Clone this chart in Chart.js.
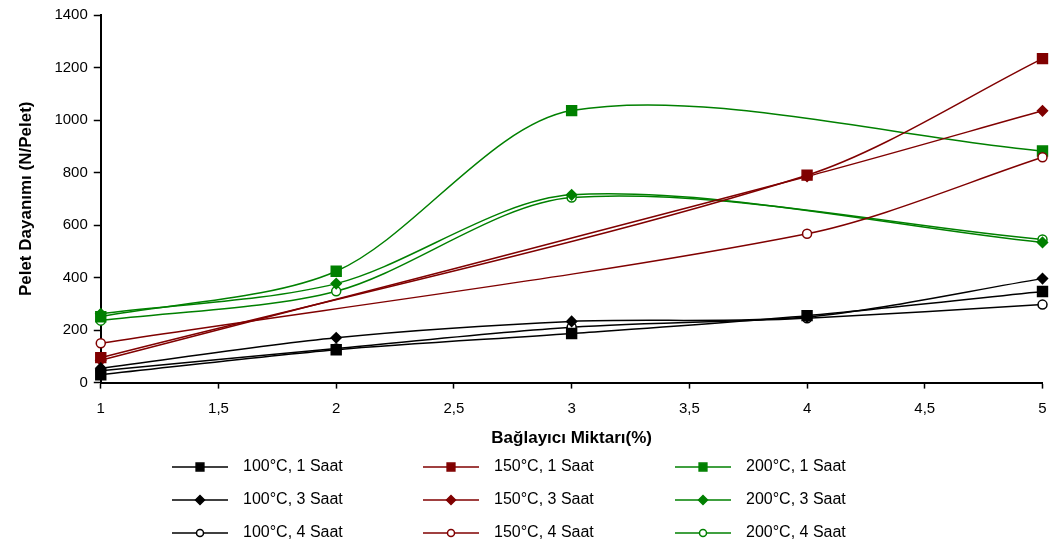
<!DOCTYPE html>
<html>
<head>
<meta charset="utf-8">
<script src="https://cdn.jsdelivr.net/npm/chart.js@4"></script>
<style>
    body { margin: 0; background: #fff; }
    #wrap { width: 1051px; height: 555px; position: relative; }
</style>
</head>
<body>
<div id="wrap"><canvas id="peletChart"></canvas></div>
<script>
/* Data */
const binderAmounts = [1, 2, 3, 4, 5];

const s100_1h = [30, 125, 187, 255, 347];
const s100_3h = [55, 171, 233, 250, 396];
const s100_4h = [45, 130, 211, 245, 297];

const s150_1h = [95, null, null, 790, 1234];
const s150_3h = [85, null, null, 785, 1035];
const s150_4h = [150, null, null, 567, 858];

const s200_1h = [251, 424, 1036, null, 882];
const s200_3h = [262, 377, 715, null, 534];
const s200_4h = [236, 348, 705, null, 545];

const seriesLabels = [
    '100°C, 1 Saat', '100°C, 3 Saat', '100°C, 4 Saat',
    '150°C, 1 Saat', '150°C, 3 Saat', '150°C, 4 Saat',
    '200°C, 1 Saat', '200°C, 3 Saat', '200°C, 4 Saat'
];
const yTicks = [0, 200, 400, 600, 800, 1000, 1200, 1400];

const BLACK = '#000000';
const RED = '#800000';
const GREEN = '#008000';

function makeSet(label, values, color, style) {
    let radius = 7, fill = color;
    if (style === 'rectRot') radius = 5;
    if (style === 'circle') { radius = 4.5; fill = '#ffffff'; }
    return {
        label: label,
        data: binderAmounts.map((x, i) => ({ x: x, y: values[i] })),
        borderColor: color,
        borderWidth: 1.5,
        pointStyle: style,
        pointRadius: radius,
        pointBackgroundColor: fill,
        pointBorderColor: color,
        pointBorderWidth: 1.5,
        tension: 0.3,
        spanGaps: true,
        clip: false
    };
}

const datasets = [
    makeSet(seriesLabels[0], s100_1h, BLACK, 'rect'),
    makeSet(seriesLabels[1], s100_3h, BLACK, 'rectRot'),
    makeSet(seriesLabels[2], s100_4h, BLACK, 'circle'),
    makeSet(seriesLabels[3], s150_1h, RED, 'rect'),
    makeSet(seriesLabels[4], s150_3h, RED, 'rectRot'),
    makeSet(seriesLabels[5], s150_4h, RED, 'circle'),
    makeSet(seriesLabels[6], s200_1h, GREEN, 'rect'),
    makeSet(seriesLabels[7], s200_3h, GREEN, 'rectRot'),
    makeSet(seriesLabels[8], s200_4h, GREEN, 'circle')
];

// legend drawn as 3 columns x 3 rows, line with marker like the original
const gridLegend = {
    id: 'gridLegend',
    afterDraw(chart) {
        const ctx = chart.ctx;
        const colX = [172, 423, 675];
        const rowY = [467, 500, 533];
        ctx.save();
        chart.data.datasets.forEach((ds, i) => {
            const x = colX[Math.floor(i / 3)];
            const y = rowY[i % 3];
            ctx.strokeStyle = ds.borderColor;
            ctx.lineWidth = 1.5;
            ctx.beginPath();
            ctx.moveTo(x, y);
            ctx.lineTo(x + 56, y);
            ctx.stroke();
            ctx.fillStyle = ds.pointBackgroundColor;
            ctx.strokeStyle = ds.pointBorderColor;
            Chart.helpers.drawPoint(ctx, {
                pointStyle: ds.pointStyle,
                radius: ds.pointStyle === 'rect' ? 5.5 : (ds.pointStyle === 'circle' ? 3.5 : 4.5),
                rotation: 0,
                borderWidth: 1.5
            }, x + 28, y);
            ctx.fillStyle = '#000';
            ctx.font = '16px "Liberation Sans", Arial, sans-serif';
            ctx.textBaseline = 'middle';
            ctx.fillText(ds.label, x + 71, y);
        });
        ctx.restore();
    }
};

new Chart(document.getElementById('peletChart'), {
    type: 'line',
    data: { datasets: datasets },
    options: {
        responsive: true,
        maintainAspectRatio: false,
        animation: false,
        layout: { padding: { left: 16, top: 10, right: 4, bottom: 106 } },
        plugins: {
            legend: { display: false },
            tooltip: { enabled: false }
        },
        scales: {
            x: {
                type: 'linear',
                min: 1,
                max: 5,
                afterFit: scale => { scale.paddingRight = 5; },
                ticks: {
                    stepSize: 0.5,
                    color: '#000',
                    padding: 11,
                    font: { family: '"Liberation Sans", Arial, sans-serif', size: 15 },
                    callback: v => String(v).replace('.', ',')
                },
                grid: { drawOnChartArea: false, color: '#000', tickLength: 6, tickWidth: 1.5 },
                border: { color: '#000', width: 2 },
                title: {
                    display: true,
                    text: 'Bağlayıcı Miktarı(%)',
                    color: '#000',
                    padding: { top: 0, bottom: 0 },
                    font: { family: '"Liberation Sans", Arial, sans-serif', size: 17, weight: 'bold' }
                }
            },
            y: {
                min: 0,
                max: 1400,
                afterBuildTicks: axis => { axis.ticks = yTicks.map(v => ({ value: v })); },
                ticks: {
                    color: '#000',
                    padding: 6,
                    font: { family: '"Liberation Sans", Arial, sans-serif', size: 15 },
                    callback: v => String(v)
                },
                grid: { drawOnChartArea: false, color: '#000', tickLength: 7, tickWidth: 1.5 },
                border: { color: '#000', width: 2 },
                title: {
                    display: true,
                    text: 'Pelet Dayanımı (N/Pelet)',
                    color: '#000',
                    padding: { top: 0, bottom: 12 },
                    font: { family: '"Liberation Sans", Arial, sans-serif', size: 17, weight: 'bold' }
                }
            }
        }
    },
    plugins: [gridLegend]
});
</script>
</body>
</html>
